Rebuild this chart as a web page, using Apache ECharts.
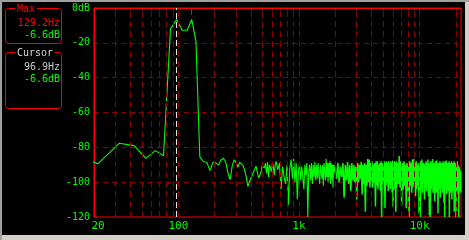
<!DOCTYPE html>
<html>
<head>
<meta charset="utf-8">
<script src="https://cdn.jsdelivr.net/npm/echarts@6/dist/echarts.min.js"></script>
<style>
  html, body { margin: 0; padding: 0; width: 469px; height: 240px; overflow: hidden; background: #d4d0c8; }
  #frameTop { position: absolute; left: 0; top: 0; width: 469px; height: 2px; background: #a0a0a0; }
  #frameLeft { position: absolute; left: 0; top: 0; width: 2px; height: 240px; background: #a0a0a0; }
  #panel { position: absolute; left: 2px; top: 2px; width: 463px; height: 233px; background: #000; }
  #chart { position: absolute; left: 0; top: 0; width: 469px; height: 240px; }
</style>
</head>
<body>
<div id="frameTop"></div>
<div id="frameLeft"></div>
<div id="panel"></div>
<div id="chart"></div>
<script>
// ---- data ----
const sampleRate = 44100;
const fftSize = 4096;
const xMinHz = 20;
const xMaxHz = 22050;
const xLabelHz = [20, 100, 1000, 10000];
const gridHz = [30, 40, 50, 60, 70, 80, 90, 100, 200, 300, 400, 500, 600, 700, 800, 900,
  1000, 2000, 3000, 4000, 5000, 6000, 7000, 8000, 9000, 10000, 20000];

const readoutTitles = ['Max', 'Cursor'];
const readoutHz = [129.2, 96.9];
const readoutDb = [-6.6, -6.6];

// FFT bin segments: first bin, bin step, levels (dB)
const segStartBin = [1, 62, 185, 610];
const segStepBin = [1, 2, 5, 10];
const levelsA = [
  -81, -89.5, -77.7, -79, -86.3, -81.9, -84.8, -12, -6.6, -12.8,
  -12.8, -6.6, -19, -85.5, -88.3, -88.6, -93.4, -88.6, -89, -90.1,
  -87.2, -86.3, -88.6, -95, -98.5, -90.5, -87.2, -88.6, -91.4, -88.6,
  -88.6, -90.5, -93.4, -97.1, -102.5, -100, -98, -96.2, -94.3, -92.4,
  -90.9, -94.3, -97.7, -98, -94.3, -90.5, -91.4, -92, -89, -95,
  -88.5, -97, -90, -92, -94, -89, -91, -96, -90, -88];
const levelsB = [
  -93, -89, -104, -91, -97, -101, -90, -113, -92, -87,
  -98, -86.5, -100, -89, -110, -94, -89, -99, -91, -97,
  -104, -90, -96, -89, -120, -94, -90, -99, -89, -101,
  -90, -97, -88.5, -99, -90, -98, -89, -96, -101, -90,
  -89, -98, -90, -102, -89, -88, -99, -86.5, -97, -89,
  -100, -89, -97, -88, -101, -89, -98, -90, -103, -90];
const levelsC = [
  -90, -98, -89, -100, -91, -97, -89, -109, -90, -99,
  -88.5, -101, -90, -105, -89, -99, -90, -100, -91, -110,
  -89, -100, -90, -98, -88.5, -107, -90, -101, -89, -117,
  -90, -102, -86.7, -100, -87, -103, -89, -99, -88, -103,
  -90, -100, -89, -114, -88, -102, -88, -104, -90, -100,
  -89, -105, -88, -120, -89, -101, -90, -103, -88, -115,
  -89, -102, -88, -100, -89, -105, -88, -101, -90, -104,
  -88, -100, -89, -106, -87.5, -114, -90, -102, -88, -104,
  -89, -117, -88, -103];
const levelsD = [
  -89, -101, -85, -103, -88, -113, -89, -104, -88, -102,
  -90, -115, -89, -105, -90, -120, -88, -102, -89, -106,
  -87, -103, -86.7, -101, -89, -108, -88, -104, -90, -102,
  -89, -118, -88, -120, -88, -103, -87, -106, -89, -101,
  -89, -110, -90, -103, -88, -105, -89, -101, -87, -108,
  -89, -119, -90, -120, -88, -104, -89, -102, -86.7, -106,
  -89, -103, -90, -111, -88, -102, -89, -106, -87.5, -101,
  -90, -118, -89, -104, -89, -102, -88, -109, -90, -103,
  -89, -101, -89, -106, -88, -103, -90, -112, -89, -120,
  -88, -104, -89, -102, -87.5, -107, -90, -103, -89, -105,
  -89, -102, -88, -120, -89, -104, -89, -106, -90, -102,
  -88, -110, -89, -103, -89, -105, -90, -102, -88, -117,
  -89, -104, -89, -102, -90, -120, -89, -106, -89, -103,
  -88, -102, -90, -107, -91, -120, -91, -104, -92, -105,
  -93, -103, -94, -106];

// ---- build ----
const binHz = sampleRate / fftSize;
const segLevels = [levelsA, levelsB, levelsC, levelsD];
const segPoints = segLevels.map((levels, i) =>
  levels.map((db, j) => [(segStartBin[i] + j * segStepBin[i]) * binHz, db]));
// sparse part (segments A, B) and dense part (C, D), joined at the shared edge
const sparseSpectrum = segPoints[0].concat(segPoints[1]);
const denseSpectrum = [segPoints[1][segPoints[1].length - 1]].concat(segPoints[2], segPoints[3]);

const FONT = '"DejaVu Sans Mono", monospace';
const RED = '#ff0000';
const GREEN = '#00ff00';
const GRID_RED = '#8c0000';

const chart = echarts.init(document.getElementById('chart'), null, { renderer: 'canvas' });

const readoutGraphics = [];
const boxTop = [8.5, 52.5];
const boxH = [35, 56];
const titleColor = [RED, '#d8d8d8'];
const freqColor = [RED, '#c8c8c8'];
readoutTitles.forEach((t, i) => {
  readoutGraphics.push({
    type: 'rect', silent: true,
    shape: { x: 5.5, y: boxTop[i], width: 56, height: boxH[i], r: 3 },
    style: { fill: null, stroke: RED, lineWidth: 1 }
  });
  readoutGraphics.push({
    type: 'text', silent: true, x: 15, y: boxTop[i] + 1,
    style: { text: t, fill: titleColor[i], font: '10px ' + FONT, verticalAlign: 'middle',
      backgroundColor: '#000', padding: [0, 2] }
  });
  readoutGraphics.push({
    type: 'text', silent: true, x: 60, y: boxTop[i] + 14.5,
    style: { text: readoutHz[i].toFixed(1) + 'Hz', fill: freqColor[i], font: '10px ' + FONT,
      align: 'right', verticalAlign: 'middle' }
  });
  readoutGraphics.push({
    type: 'text', silent: true, x: 60, y: boxTop[i] + 26.5,
    style: { text: readoutDb[i].toFixed(1) + 'dB', fill: GREEN, font: '10px ' + FONT,
      align: 'right', verticalAlign: 'middle' }
  });
});

chart.setOption({
  backgroundColor: 'transparent',
  animation: false,
  grid: { left: 94, top: 8, right: 8, bottom: 23, show: true, borderColor: RED, borderWidth: 1,
    backgroundColor: 'transparent' },
  xAxis: {
    type: 'log', logBase: 10, min: xMinHz, max: xMaxHz,
    axisLine: { show: true, lineStyle: { color: RED, width: 1 } },
    axisTick: { show: true, length: 2, customValues: gridHz.concat([20]), lineStyle: { color: RED } },
    splitLine: { show: false },
    minorTick: { show: false },
    axisLabel: {
      customValues: xLabelHz,
      color: GREEN, fontFamily: FONT, fontSize: 11, margin: 4,
      formatter: v => {
        if (v >= 1000) return (v / 1000) + 'k';
        if (v === xMinHz) return '{m|' + v + '}';
        return String(v);
      },
      rich: { m: { color: GREEN, fontFamily: FONT, fontSize: 11, padding: [0, 0, 0, 8] } }
    }
  },
  yAxis: {
    type: 'value', min: -120, max: 0, interval: 20,
    axisLine: { show: true, lineStyle: { color: RED, width: 1 } },
    axisTick: { show: false },
    splitLine: { show: true, showMinLine: false, showMaxLine: false,
      lineStyle: { color: GRID_RED, type: [5, 4], width: 1 } },
    axisLabel: {
      color: GREEN, fontFamily: FONT, fontSize: 10, margin: 4,
      formatter: v => v === 0 ? '0dB' : String(v)
    }
  },
  graphic: readoutGraphics,
  series: [
    {
      type: 'line', data: [], z: 1, silent: true,
      markLine: {
        silent: true, symbol: 'none', animation: false,
        label: { show: false },
        lineStyle: { color: GRID_RED, type: [6, 4], width: 1 },
        data: gridHz.map(f => ({ xAxis: f }))
      }
    },
    {
      type: 'line', data: sparseSpectrum, z: 3, silent: true,
      showSymbol: false, symbol: 'none', clip: true,
      lineStyle: { color: GREEN, width: 1.1 },
      emphasis: { disabled: true }
    },
    {
      type: 'line', data: denseSpectrum, z: 3, silent: true,
      showSymbol: false, symbol: 'none', clip: true,
      lineStyle: { color: GREEN, width: 1.5 },
      emphasis: { disabled: true }
    },
    {
      type: 'line', data: [], z: 5, silent: true,
      markLine: {
        silent: true, symbol: 'none', animation: false,
        label: { show: false },
        data: [
          { xAxis: readoutHz[1], lineStyle: { color: '#e8e8e8', type: [6, 3], width: 1 } },
          [
            { coord: [readoutHz[0], 0], lineStyle: { color: RED, type: 'solid', width: 1 } },
            { coord: [readoutHz[0], -4] }
          ]
        ]
      }
    }
  ]
});
</script>
</body>
</html>
